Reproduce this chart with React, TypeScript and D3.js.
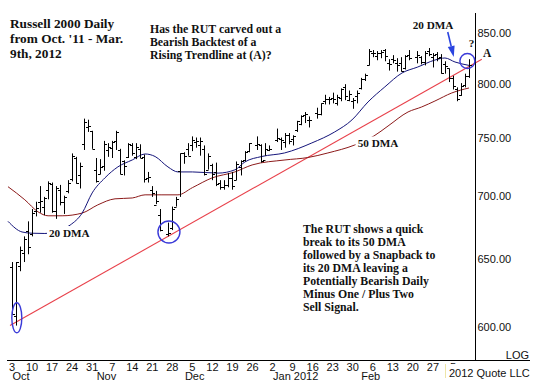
import React from 'react';
import * as d3 from 'd3';

const W = 545;
const H = 391;

// ---- Data ----
const tradingDates = [
  '2011-10-03','2011-10-04','2011-10-05','2011-10-06','2011-10-07','2011-10-10','2011-10-11','2011-10-12','2011-10-13','2011-10-14','2011-10-17','2011-10-18','2011-10-19','2011-10-20','2011-10-21','2011-10-24','2011-10-25','2011-10-26','2011-10-27','2011-10-28','2011-10-31',
  '2011-11-01','2011-11-02','2011-11-03','2011-11-04','2011-11-07','2011-11-08','2011-11-09','2011-11-10','2011-11-11','2011-11-14','2011-11-15','2011-11-16','2011-11-17','2011-11-18','2011-11-21','2011-11-22','2011-11-23','2011-11-25','2011-11-28','2011-11-29','2011-11-30',
  '2011-12-01','2011-12-02','2011-12-05','2011-12-06','2011-12-07','2011-12-08','2011-12-09','2011-12-12','2011-12-13','2011-12-14','2011-12-15','2011-12-16','2011-12-19','2011-12-20','2011-12-21','2011-12-22','2011-12-23','2011-12-27','2011-12-28','2011-12-29','2011-12-30',
  '2012-01-03','2012-01-04','2012-01-05','2012-01-06','2012-01-09','2012-01-10','2012-01-11','2012-01-12','2012-01-13','2012-01-17','2012-01-18','2012-01-19','2012-01-20','2012-01-23','2012-01-24','2012-01-25','2012-01-26','2012-01-27','2012-01-30','2012-01-31',
  '2012-02-01','2012-02-02','2012-02-03','2012-02-06','2012-02-07','2012-02-08','2012-02-09','2012-02-10','2012-02-13','2012-02-14','2012-02-15','2012-02-16','2012-02-17','2012-02-21','2012-02-22','2012-02-23','2012-02-24','2012-02-27','2012-02-28','2012-02-29',
  '2012-03-01','2012-03-02','2012-03-05','2012-03-06','2012-03-07','2012-03-08','2012-03-09',
];

const openValues = [
  644,608,645,655,672,670,688,696,692,706,711,688,706,696,705,715,733,718,745,760,757,
  723,719,726,740,742,748,740,730,734,744,734,741,734,716,706,693,685,670,675,692,722,
  737,741,744,747,744,741,723,727,721,712,708,710,716,714,725,731,739,744,744,731,740,
  749,750,747,753,750,758,763,771,767,773,772,784,786,787,782,787,797,785,784,789,
  796,805,818,830,827,830,833,820,824,820,820,815,828,826,826,821,832,826,829,826,
  819,815,806,795,790,799,808,
];
const highValues = [
  648,648,660,668,680,690,696,709,700,713,712,709,710,701,714,737,734,729,768,767,757,
  733,732,748,746,748,757,741,731,746,746,746,745,736,721,709,705,690,679,692,700,737,
  738,746,752,751,751,744,737,728,729,714,714,720,721,730,731,739,746,752,745,746,744,
  759,751,755,755,753,766,771,774,770,778,782,790,788,792,790,796,800,794,787,794,
  806,810,834,833,832,833,834,824,828,825,826,828,833,832,827,832,835,830,831,829,
  822,815,808,797,801,810,824,
];
const lowValues = [
  609,601,641,648,654,668,684,687,685,698,687,682,693,686,703,713,711,707,740,756,741,
  712,719,722,734,733,740,719,718,733,735,732,733,712,712,700,694,672,668,673,692,700,
  728,735,739,742,735,718,723,714,709,706,706,708,706,714,718,730,738,740,729,735,739,
  747,740,742,745,744,756,762,764,760,768,771,781,781,782,780,784,785,784,777,782,
  795,803,818,826,823,825,822,813,820,812,812,814,823,820,819,818,827,816,822,810,
  810,802,795,784,789,797,806,
];
const closeValues = [
  609,648,657,666,660,687,691,697,699,712,688,707,696,700,712,735,712,726,765,761,741,
  713,725,745,743,747,756,719,726,745,737,743,733,715,717,703,697,673,671,690,698,737,
  735,735,749,748,748,719,735,719,711,708,710,716,709,728,730,738,746,745,730,741,741,
  751,749,753,748,752,766,770,772,767,772,782,786,786,786,788,795,789,791,785,792,
  805,809,832,830,830,831,827,819,823,818,813,827,825,828,821,830,829,828,825,811,
  817,806,798,786,798,808,818,
];

// Moving averages: weekday index / value
const dma20Days = [-1, 2.5, 5, 8.2, 11.5, 14.5, 17.5, 20, 23.2, 26.4, 30, 33.2, 35.7, 38.9, 41.4, 45, 51.4, 55.6, 58.1, 62.3, 68, 74.8, 80.5, 84.8, 88.8, 93, 97.3, 101.2, 105.5, 108, 110.5, 114];
const dma20Values = [680, 671.5, 670.5, 670.3, 672.5, 677, 686.7, 703.3, 716, 725.3, 731.3, 736.5, 734.3, 725.3, 721, 721, 720, 722.8, 729.6, 734.3, 737.4, 746.2, 756, 766.8, 783.3, 797.4, 810.7, 816.4, 823.2, 825.2, 821.3, 818];
const dma50Days = [-1, 3.2, 6.5, 9, 12.5, 17.5, 21.4, 25.7, 30, 33.2, 37.4, 41.4, 45, 49.9, 55.6, 59.9, 68.1, 73.8, 78.8, 85.5, 90.3, 93.8, 98.8, 102.2, 105.5, 109.7, 114];
const dma50Values = [708.5, 697.6, 687.7, 684.5, 684.5, 686.7, 693.4, 698.4, 699.1, 701.7, 701.7, 701.7, 707.7, 715.9, 721, 727, 731.3, 733.4, 737.4, 744.4, 752.4, 761.3, 774.1, 778.7, 784.2, 791.7, 796.4];

// Rising trendline (weekday index / value)
const trendDays = [-0.5, 117.2];
const trendValues = [601, 824];

const yTickValues = [600, 650, 700, 750, 800, 850];
const monthStarts = ['2011-10-03', '2011-11-01', '2011-12-01', '2012-01-02', '2012-02-01'];
const monthLabels = ['Oct', 'Nov', 'Dec', 'Jan 2012', 'Feb'];
const weekCount = 23;

const titleLines = ['Russell 2000 Daily', "from Oct. '11 - Mar.", '9th, 2012'];
const questionLines = ['Has the RUT carved out a', 'Bearish Backtest of a', 'Rising Trendline at (A)?'];
const noteLines = [
  'The RUT shows a quick',
  'break to its 50 DMA',
  'followed by a Snapback to',
  'its 20 DMA leaving a',
  'Potentially Bearish Daily',
  'Minus One / Plus Two',
  'Sell Signal.',
];

// circled spots: weekday index, value
const circleDays = [1.2, 39.15, 113.6];
const circleValues = [606.6, 671.5, 822.3];
const circleRx = [5, 11, 7.5];
const circleRy = [15, 11, 7.5];

const parse = d3.timeParse('%Y-%m-%d');
const startDate = parse('2011-10-03') as Date;
function weekdayIndex(s: string): number {
  const d = parse(s) as Date;
  const weeks = d3.timeMonday.count(startDate, d);
  return weeks * 5 + (d.getDay() - 1);
}

const SERIF = '"Liberation Serif", "Times New Roman", serif';
const SANS = '"Liberation Sans", Arial, sans-serif';

export default function App() {
  const x = d3.scaleLinear().domain([0, 114]).range([12, 469]);
  const y = d3.scaleLog().domain([600, 850]).range([327, 33]);

  const bars = tradingDates.map((d, i) => {
    const xi = Math.round(x(weekdayIndex(d))) + 0.5;
    const yo = Math.round(y(openValues[i])) + 0.5;
    const yc = Math.round(y(closeValues[i])) + 0.5;
    return `M${xi},${y(highValues[i])}V${y(lowValues[i])}M${xi - 2.5},${yo}H${xi}M${xi},${yc}H${xi + 2.5}`;
  }).join('');

  const line = d3.line<[number, number]>().x(p => x(p[0])).y(p => y(p[1])).curve(d3.curveMonotoneX);
  const dma20Path = line(dma20Days.map((d, i) => [d, dma20Values[i]])) as string;
  const dma50Path = line(dma50Days.map((d, i) => [d, dma50Values[i]])) as string;

  const arrowStart: [number, number] = [x(108.7), y(851)];
  const arrowEnd: [number, number] = [x(110.2), y(826.2)];
  const ang = Math.atan2(arrowEnd[1] - arrowStart[1], arrowEnd[0] - arrowStart[0]);
  const hl = 11, hw = 3.5;
  const bx = arrowEnd[0] - hl * Math.cos(ang), by = arrowEnd[1] - hl * Math.sin(ang);
  const head = `M${arrowEnd[0]},${arrowEnd[1]}L${bx + hw * Math.sin(ang)},${by - hw * Math.cos(ang)}L${bx - hw * Math.sin(ang)},${by + hw * Math.cos(ang)}Z`;

  const weeks = d3.range(weekCount).map(k => ({
    x: x(k * 5),
    label: String((d3.timeMonday.offset(startDate, k) as Date).getDate()),
  }));

  return (
    <svg width={W} height={H} style={{ position: 'absolute', left: 0, top: 0, background: '#fff' }}
      xmlns="http://www.w3.org/2000/svg">
      <rect x={0} y={0} width={W} height={H} fill="#fff" />

      {/* trendline */}
      <line x1={x(trendDays[0])} y1={y(trendValues[0])} x2={x(trendDays[1])} y2={y(trendValues[1])}
        stroke="#e8404a" strokeWidth={1.1} />

      {/* moving averages */}
      <path d={dma50Path} fill="none" stroke="#8c1a1a" strokeWidth={1} />
      <path d={dma20Path} fill="none" stroke="#14147a" strokeWidth={1} />

      {/* OHLC bars */}
      <path d={bars} fill="none" stroke="#000" strokeWidth={1} />

      {/* axes */}
      <line x1={475.5} y1={13} x2={475.5} y2={361} stroke="#000" strokeWidth={1} />
      <line x1={7} y1={360.5} x2={530} y2={360.5} stroke="#000" strokeWidth={1} />
      {yTickValues.map(v => (
        <text key={v} x={477.5} y={y(v) + 3.5} fontFamily={SANS} fontSize={11} fill="#111">{v.toFixed(2)}</text>
      ))}
      <text x={529} y={359.3} textAnchor="end" fontFamily={SANS} fontSize={11} fill="#111">LOG</text>
      {weeks.map((w, k) => (
        <text key={k} x={w.x} y={371} textAnchor="middle" fontFamily={SANS} fontSize={11} fill="#111">{w.label}</text>
      ))}
      {monthStarts.map((m, i) => (
        <text key={m} x={x(weekdayIndex(m)) + 0.5} y={379.5} fontFamily={SANS} fontSize={11} fill="#111">{monthLabels[i]}</text>
      ))}
      <rect x={445} y={364} width={100} height={27} fill="#fff" />
      <line x1={445.5} y1={364} x2={445.5} y2={378} stroke="#eee6a8" strokeWidth={1} />
      <text x={449} y={376.7} fontFamily={SANS} fontSize={11} fill="#111">2012 Quote LLC</text>

      {/* circles */}
      {circleDays.map((d, i) => (
        <ellipse key={i} cx={x(d)} cy={y(circleValues[i])} rx={circleRx[i]} ry={circleRy[i]}
          fill="none" stroke="#3a3ad8" strokeWidth={1.4} />
      ))}

      {/* arrow */}
      <line x1={arrowStart[0]} y1={arrowStart[1]} x2={bx} y2={by} stroke="#2a44e0" strokeWidth={1.6} />
      <path d={head} fill="#2a44e0" />

      {/* labels */}
      <g fontFamily={SERIF} fontWeight="bold" fill="#111">
        {titleLines.map((t, i) => (
          <text key={i} x={10} y={28.3 + i * 14.7} fontSize={13.3}>{t}</text>
        ))}
        {questionLines.map((t, i) => (
          <text key={i} x={150} y={32.6 + i * 13} fontSize={11.8}>{t}</text>
        ))}
        {noteLines.map((t, i) => (
          <text key={i} x={303} y={232.7 + i * 13} fontSize={11.8}>{t}</text>
        ))}
        <rect x={47} y={226} width={44} height={14} fill="#fff" />
        <text x={49} y={237.3} fontSize={11.2}>20 DMA</text>
        <rect x={355.5} y={136.5} width={45} height={13} fill="#fff" />
        <text x={357.7} y={146.7} fontSize={11.2}>50 DMA</text>
        <text x={412.7} y={29.3} fontSize={11.2}>20 DMA</text>
        <text x={471.5} y={47.3} fontSize={11.2} textAnchor="middle">?</text>
        <text x={483} y={57.3} fontSize={11.5}>A</text>
      </g>
    </svg>
  );
}
